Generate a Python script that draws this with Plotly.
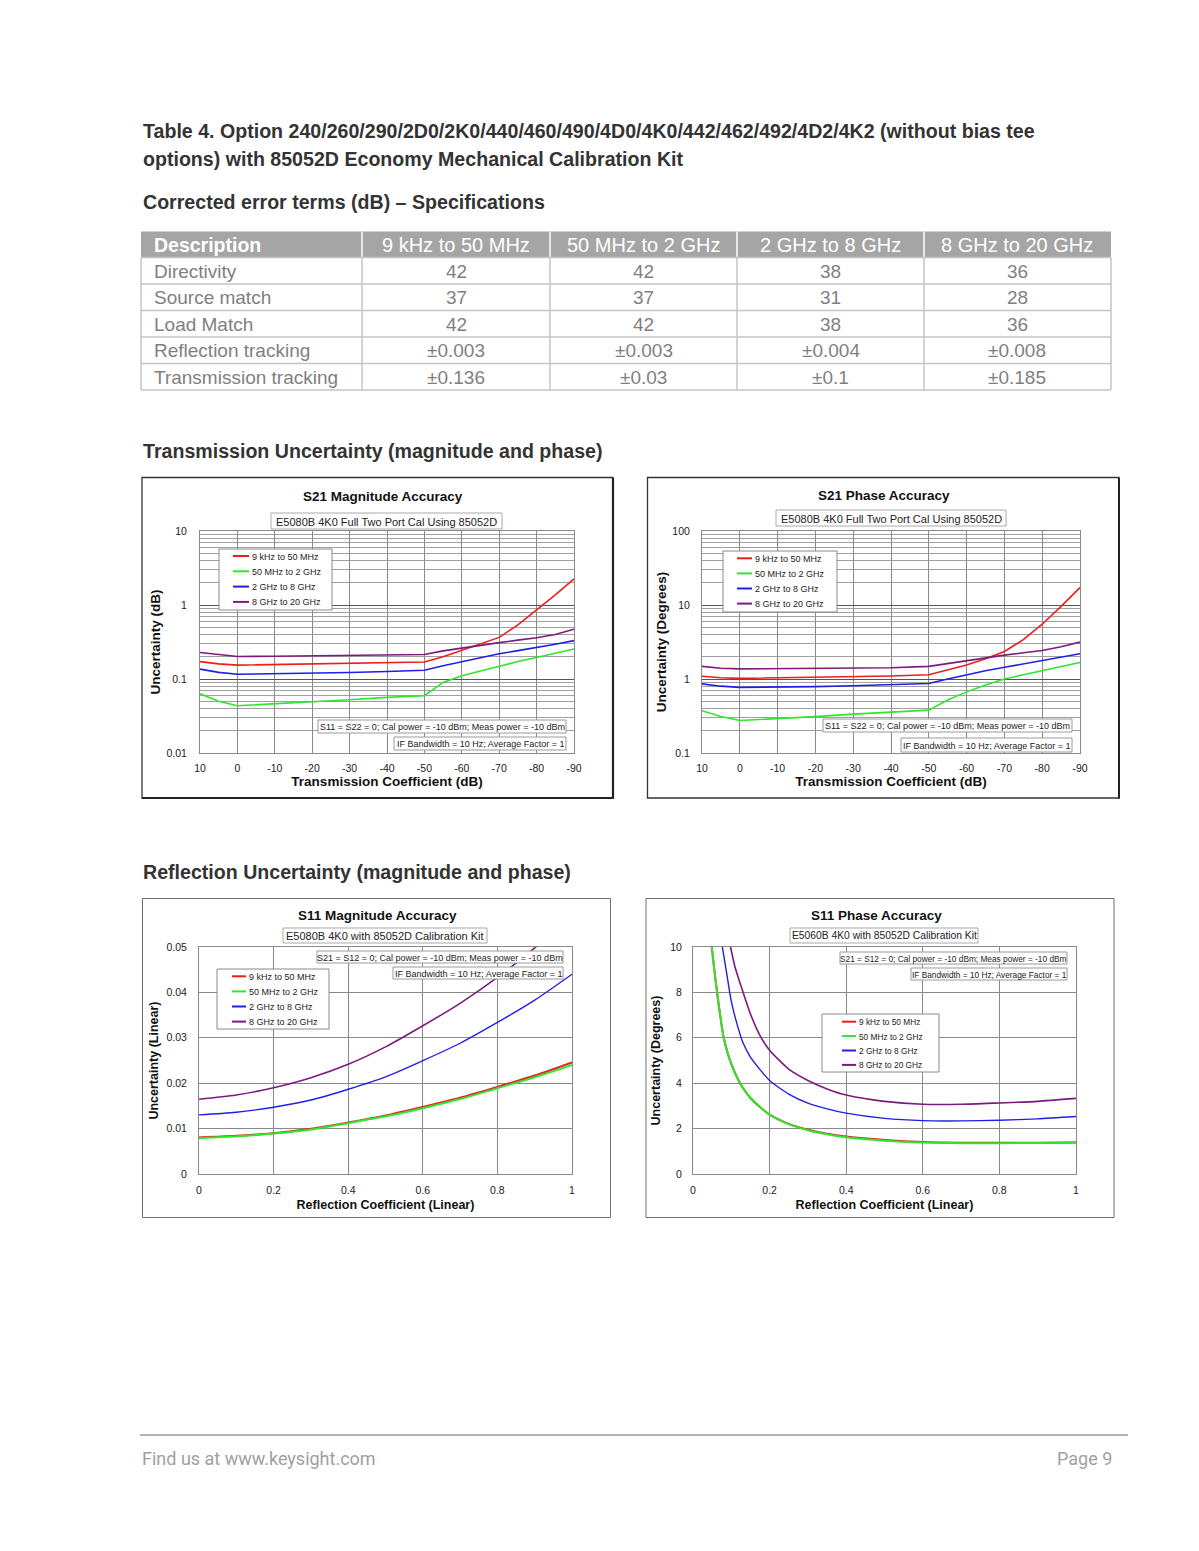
import plotly.graph_objects as go

PAGE_W, PAGE_H = 1199, 1551
BODY_MARGIN = 8  # default browser body margin around the figure div
W, H = PAGE_W - 2 * BODY_MARGIN, PAGE_H - 2 * BODY_MARGIN
FONT = "Liberation Sans, Arial, Helvetica, sans-serif"

# ---------------- page texts ----------------
page_heading_1 = "Table 4. Option 240/260/290/2D0/2K0/440/460/490/4D0/4K0/442/462/492/4D2/4K2 (without bias tee"
page_heading_2 = "options) with 85052D Economy Mechanical Calibration Kit"
table_caption = "Corrected error terms (dB) – Specifications"
section_tx = "Transmission Uncertainty (magnitude and phase)"
section_rx = "Reflection Uncertainty (magnitude and phase)"
footer_left = "Find us at www.keysight.com"
footer_right = "Page 9"

# ---------------- table data ----------------
table_header = ["Description", "9 kHz to 50 MHz", "50 MHz to 2 GHz", "2 GHz to 8 GHz", "8 GHz to 20 GHz"]
table_terms = ["Directivity", "Source match", "Load Match", "Reflection tracking", "Transmission tracking"]
band_9k_50m = ["42", "37", "42", "±0.003", "±0.136"]
band_50m_2g = ["42", "37", "42", "±0.003", "±0.03"]
band_2g_8g = ["38", "31", "38", "±0.004", "±0.1"]
band_8g_20g = ["36", "28", "36", "±0.008", "±0.185"]

# ---------------- series ----------------
series_names = ["9 kHz to 50 MHz", "50 MHz to 2 GHz", "2 GHz to 8 GHz", "8 GHz to 20 GHz"]
series_colors = ["#ee1c1c", "#2ee62e", "#1f1fe6", "#7d1a7d"]

# S21 magnitude / phase vs transmission coefficient (dB)
s21_x = [10, 5, 0, -10, -20, -30, -40, -50, -55, -60, -65, -70, -75, -80, -85, -90]
s21_mag_9k = [0.172, 0.160, 0.154, 0.157, 0.160, 0.163, 0.166, 0.170, 0.200, 0.243, 0.295, 0.365, 0.54, 0.86, 1.37, 2.25]
s21_mag_50m = [0.063, 0.050, 0.0435, 0.046, 0.049, 0.0525, 0.0565, 0.0595, 0.090, 0.111, 0.128, 0.149, 0.172, 0.195, 0.224, 0.255]
s21_mag_2g = [0.136, 0.123, 0.116, 0.1175, 0.119, 0.1225, 0.126, 0.131, 0.151, 0.172, 0.195, 0.219, 0.242, 0.266, 0.295, 0.33]
s21_mag_8g = [0.228, 0.212, 0.201, 0.203, 0.205, 0.207, 0.210, 0.214, 0.240, 0.263, 0.287, 0.31, 0.335, 0.36, 0.40, 0.47]

s21_ph_9k = [1.09, 1.04, 1.02, 1.035, 1.05, 1.075, 1.10, 1.14, 1.32, 1.55, 1.88, 2.35, 3.4, 5.5, 9.6, 17.2]
s21_ph_50m = [0.372, 0.312, 0.275, 0.29, 0.31, 0.335, 0.355, 0.38, 0.52, 0.67, 0.83, 1.0, 1.14, 1.30, 1.48, 1.67]
s21_ph_2g = [0.86, 0.80, 0.77, 0.775, 0.79, 0.81, 0.83, 0.87, 1.0, 1.14, 1.29, 1.44, 1.60, 1.76, 1.95, 2.19]
s21_ph_8g = [1.48, 1.40, 1.37, 1.375, 1.38, 1.40, 1.42, 1.48, 1.62, 1.76, 1.93, 2.10, 2.26, 2.43, 2.72, 3.15]

# S11 magnitude vs reflection coefficient (linear)
s11_x = [0.0, 0.1, 0.2, 0.3, 0.4, 0.5, 0.6, 0.7, 0.8, 0.9, 1.0]
s11_mag_9k = [0.00805, 0.0084, 0.0090, 0.00996, 0.01135, 0.0129, 0.01479, 0.0168, 0.01918, 0.0217, 0.0246]
s11_mag_50m = [0.0079, 0.0083, 0.0089, 0.0098, 0.0112, 0.0127, 0.0145, 0.0165, 0.0189, 0.0213, 0.0240]
s11_mag_2g = [0.01303, 0.0136, 0.01471, 0.0163, 0.01867, 0.0214, 0.02496, 0.0288, 0.03338, 0.0383, 0.0440]
s11_mag_8g = [0.01647, 0.0174, 0.0190, 0.0212, 0.02416, 0.0280, 0.03265, 0.0376, 0.0433, 0.0498, 0.0571]

# S11 phase vs reflection coefficient (linear)
s11ph_x_9k = [0.049, 0.057, 0.066, 0.079, 0.09, 0.10, 0.115, 0.13, 0.15, 0.175, 0.20, 0.25, 0.30, 0.35, 0.40, 0.50, 0.60, 0.70, 0.80, 0.90, 1.00]
s11ph_9k = [10.0, 8.8, 7.6, 6.1, 5.35, 4.85, 4.25, 3.8, 3.35, 2.95, 2.62, 2.21, 1.95, 1.77, 1.65, 1.50, 1.41, 1.38, 1.38, 1.38, 1.39]
s11ph_x_50m = [0.049, 0.057, 0.066, 0.079, 0.09, 0.10, 0.115, 0.13, 0.15, 0.175, 0.20, 0.25, 0.30, 0.35, 0.40, 0.50, 0.60, 0.70, 0.80, 0.90, 1.00]
s11ph_50m = [10.0, 8.8, 7.6, 6.1, 5.35, 4.85, 4.25, 3.8, 3.35, 2.95, 2.62, 2.2, 1.93, 1.75, 1.62, 1.47, 1.39, 1.36, 1.36, 1.37, 1.39]
s11ph_x_2g = [0.0766, 0.088, 0.10, 0.115, 0.13, 0.15, 0.175, 0.20, 0.25, 0.30, 0.35, 0.40, 0.50, 0.60, 0.70, 0.80, 0.90, 1.00]
s11ph_2g = [10.0, 8.84, 7.6, 6.6, 5.8, 5.15, 4.6, 4.12, 3.52, 3.12, 2.87, 2.68, 2.45, 2.35, 2.34, 2.37, 2.43, 2.53]
s11ph_x_8g = [0.098, 0.11, 0.125, 0.15, 0.175, 0.20, 0.25, 0.30, 0.35, 0.40, 0.50, 0.60, 0.70, 0.80, 0.90, 1.00]
s11ph_8g = [10.0, 9.1, 8.3, 7.05, 6.1, 5.45, 4.62, 4.12, 3.75, 3.48, 3.2, 3.07, 3.07, 3.13, 3.2, 3.33]

# ---------------- ticks ----------------
s21_xticks = [10, 0, -10, -20, -30, -40, -50, -60, -70, -80, -90]
s21_xticklabels = ["10", "0", "-10", "-20", "-30", "-40", "-50", "-60", "-70", "-80", "-90"]
mag_yticks = [0.01, 0.1, 1, 10]
mag_yticklabels = ["0.01", "0.1", "1", "10"]
ph_yticks = [0.1, 1, 10, 100]
ph_yticklabels = ["0.1", "1", "10", "100"]
s11_xticks = [0, 0.2, 0.4, 0.6, 0.8, 1.0]
s11_xticklabels = ["0", "0.2", "0.4", "0.6", "0.8", "1"]
s11_mag_yticks = [0, 0.01, 0.02, 0.03, 0.04, 0.05]
s11_mag_yticklabels = ["0", "0.01", "0.02", "0.03", "0.04", "0.05"]
s11_ph_yticks = [0, 2, 4, 6, 8, 10]
s11_ph_yticklabels = ["0", "2", "4", "6", "8", "10"]


# ---------------- helpers (page pixel -> paper) ----------------
def px(x):
    return (x - BODY_MARGIN) / W


def py(y):
    return 1 - (y - BODY_MARGIN) / H


def xdom(a, b):
    return [px(a), px(b)]


def ydom(top, bottom):
    return [py(bottom), py(top)]


def minor_log(lo, hi):
    vals = []
    for d in range(lo, hi):
        for k in range(2, 10):
            vals.append(k * 10 ** d)
    return vals


annotations = []
shapes = []


def text(t, x, y, size, bold=False, color="#222222", xanchor="center", yanchor="middle", family=FONT, **kw):
    annotations.append(dict(text=t, x=px(x), y=py(y), xref="paper", yref="paper", showarrow=False,
                            xanchor=xanchor, yanchor=yanchor,
                            font=dict(family=family, size=size, color=color,
                                      weight="bold" if bold else "normal"), **kw))


def line(x0, y0, x1, y1, color, width):
    shapes.append(dict(type="line", xref="paper", yref="paper", x0=px(x0), x1=px(x1), y0=py(y0), y1=py(y1),
                       line=dict(color=color, width=width)))


def rect(x0, y0, x1, y1, color, width, fill=None):
    d = dict(type="rect", xref="paper", yref="paper", x0=px(x0), x1=px(x1), y0=py(y1), y1=py(y0),
             line=dict(color=color, width=width))
    if fill:
        d["fillcolor"] = fill
    shapes.append(d)


def boxed(t, x0, y0, x1, y1, size, border="#9a9a9a"):
    rect(x0, y0, x1, y1, border, 1, "white")
    text(t, (x0 + x1) / 2, (y0 + y1) / 2 + 0.5, size, color="#222222")


def legend(box, lx0, lx1, y0, dy, size):
    rect(box[0], box[1], box[2], box[3], "#8a8a8a", 1, "white")
    for i, (name, col) in enumerate(zip(series_names, series_colors)):
        yy = y0 + i * dy
        line(lx0, yy, lx1, yy, col, 2)
        text(name, lx1 + 0.5, yy + 0.5, size, xanchor="left", color="#222222")


fig = go.Figure()

# ---------------- traces ----------------
s21_mag = [s21_mag_9k, s21_mag_50m, s21_mag_2g, s21_mag_8g]
s21_ph = [s21_ph_9k, s21_ph_50m, s21_ph_2g, s21_ph_8g]
s11_mag = [s11_mag_9k, s11_mag_50m, s11_mag_2g, s11_mag_8g]
s11_ph_x = [s11ph_x_9k, s11ph_x_50m, s11ph_x_2g, s11ph_x_8g]
s11_ph = [s11ph_9k, s11ph_50m, s11ph_2g, s11ph_8g]
s11_widths = [2.0, 2.0, 1.4, 1.6]

for i, (name, col) in enumerate(zip(series_names, series_colors)):
    fig.add_trace(go.Scatter(x=s21_x, y=s21_mag[i], xaxis="x", yaxis="y", mode="lines", name=name,
                             line=dict(color=col, width=1.6), showlegend=False))
for i, (name, col) in enumerate(zip(series_names, series_colors)):
    fig.add_trace(go.Scatter(x=s21_x, y=s21_ph[i], xaxis="x2", yaxis="y2", mode="lines", name=name,
                             line=dict(color=col, width=1.6), showlegend=False))
for i, (name, col) in enumerate(zip(series_names, series_colors)):
    fig.add_trace(go.Scatter(x=s11_x, y=s11_mag[i], xaxis="x3", yaxis="y3", mode="lines", name=name,
                             line=dict(color=col, width=s11_widths[i], shape="spline", smoothing=0.8),
                             showlegend=False))
for i, (name, col) in enumerate(zip(series_names, series_colors)):
    fig.add_trace(go.Scatter(x=s11_ph_x[i], y=s11_ph[i], xaxis="x4", yaxis="y4", mode="lines", name=name,
                             line=dict(color=col, width=s11_widths[i], shape="spline", smoothing=0.6),
                             showlegend=False))


# ---------------- axes ----------------
def axis(domain, anchor, tickvals, ticktext, title, tsize, standoff, lstand, grid="#8a8a8a", **kw):
    d = dict(domain=domain, anchor=anchor, showline=True, mirror=True, linecolor="#8a8a8a", linewidth=1,
             zeroline=False, ticks="", showgrid=True, gridcolor=grid, gridwidth=1, automargin=False,
             tickmode="array", tickvals=tickvals, ticktext=ticktext, ticklabelstandoff=lstand,
             tickfont=dict(family=FONT, size=10.5, color="#1a1a1a"), fixedrange=True,
             title=dict(text=title, standoff=standoff,
                        font=dict(family=FONT, size=tsize, color="#111111", weight="bold")))
    d.update(kw)
    return d


layout_axes = dict(
    xaxis=axis(xdom(200, 574), "y", s21_xticks, s21_xticklabels, "Transmission Coefficient (dB)", 13.5, 1, 5,
               range=[10, -90]),
    yaxis=axis(ydom(531, 753), "x", mag_yticks, mag_yticklabels, "Uncertainty (dB)", 13.5, 2, 10,
               grid="#555555", type="log", range=[-2, 1],
               minor=dict(tickmode="array", tickvals=minor_log(-2, 1), showgrid=True, gridcolor="#a0a0a0",
                          gridwidth=1, ticks="")),
    xaxis2=axis(xdom(702, 1080), "y2", s21_xticks, s21_xticklabels, "Transmission Coefficient (dB)", 13.5, 1, 5,
                range=[10, -90]),
    yaxis2=axis(ydom(531, 753), "x2", ph_yticks, ph_yticklabels, "Uncertainty (Degrees)", 13.5, 2, 9,
                grid="#555555", type="log", range=[-1, 2],
                minor=dict(tickmode="array", tickvals=minor_log(-1, 2), showgrid=True, gridcolor="#a0a0a0",
                           gridwidth=1, ticks="")),
    xaxis3=axis(xdom(199, 572), "y3", s11_xticks, s11_xticklabels, "Reflection Coefficient (Linear)", 12.5, 5, 6,
                range=[0, 1]),
    yaxis3=axis(ydom(947, 1174), "x3", s11_mag_yticks, s11_mag_yticklabels, "Uncertainty (Linear)", 12.5, 5, 9,
                range=[0, 0.05]),
    xaxis4=axis(xdom(693, 1076), "y4", s11_xticks, s11_xticklabels, "Reflection Coefficient (Linear)", 12.5, 5, 6,
                range=[0, 1]),
    yaxis4=axis(ydom(947, 1174), "x4", s11_ph_yticks, s11_ph_yticklabels, "Uncertainty (Degrees)", 12.5, 6, 8,
                range=[0, 10]),
)

# ---------------- page headings ----------------
HEAD = "#333333"
text(page_heading_1, 141, 131, 19.6, bold=True, color=HEAD, xanchor="left")
text(page_heading_2, 141, 159, 19.6, bold=True, color=HEAD, xanchor="left")
text(table_caption, 141, 202, 19.6, bold=True, color=HEAD, xanchor="left")
text(section_tx, 141, 451, 19.6, bold=True, color=HEAD, xanchor="left")
text(section_rx, 141, 872, 19.6, bold=True, color=HEAD, xanchor="left")

# ---------------- table ----------------
col_edges = [141, 362, 550, 737, 924, 1111]
row_edges = [257.5, 284, 310.5, 337, 363.5, 390]
hdr_top = 231.5
rect(col_edges[0], hdr_top, col_edges[-1], row_edges[0], "#a5a5a5", 0, "#a5a5a5")
for xe in col_edges[1:-1]:
    line(xe, hdr_top, xe, row_edges[0], "#ffffff", 1.5)
for ye in row_edges:
    line(col_edges[0], ye, col_edges[-1], ye, "#c4c4c4", 1.5)
for xe in col_edges:
    line(xe, row_edges[0], xe, row_edges[-1], "#c4c4c4", 1.5)

hdr_mid = (hdr_top + row_edges[0]) / 2 + 0.5
for j, h in enumerate(table_header):
    if j == 0:
        text(h, col_edges[0] + 11, hdr_mid, 19.5, bold=True, color="#ffffff", xanchor="left")
    else:
        text(h, (col_edges[j] + col_edges[j + 1]) / 2, hdr_mid, 20, color="#ffffff")

columns = [table_terms, band_9k_50m, band_50m_2g, band_2g_8g, band_8g_20g]
BODY = "#7f7f7f"
for r in range(len(table_terms)):
    ymid = (row_edges[r] + row_edges[r + 1]) / 2 + 0.5
    for j, col in enumerate(columns):
        if j == 0:
            text(col[r], col_edges[0] + 11, ymid, 19, color=BODY, xanchor="left")
        else:
            text(col[r], (col_edges[j] + col_edges[j + 1]) / 2, ymid, 19, color=BODY)

# ---------------- chart frames ----------------
rect(142, 477.5, 613, 798, "#333333", 1.3)
line(613, 478, 613, 798.5, "#222222", 2.2)
line(142, 798, 613.5, 798, "#222222", 2.2)
rect(647.5, 477.5, 1119, 798, "#333333", 1.3)
line(1119, 478, 1119, 798.5, "#222222", 2)
rect(142.5, 898.5, 610.5, 1217.5, "#6f6f6f", 1)
rect(646, 898.5, 1114, 1217.5, "#6f6f6f", 1)

# chart titles
text("S21 Magnitude Accuracy", 383, 496, 13.5, bold=True, color="#111111")
text("S21 Phase Accuracy", 884, 495, 13.5, bold=True, color="#111111")
text("S11 Magnitude Accuracy", 377, 916, 13.5, bold=True, color="#111111")
text("S11 Phase Accuracy", 876, 916, 13.5, bold=True, color="#111111")

# subtitle boxes
boxed("E5080B 4K0 Full Two Port Cal Using 85052D", 271, 513, 502, 529, 11, "#aaaaaa")
boxed("E5080B 4K0 Full Two Port Cal Using 85052D", 776, 510, 1006, 526, 11, "#aaaaaa")
boxed("E5080B 4K0 with 85052D Calibration Kit", 283, 928, 487, 943, 11, "#aaaaaa")
boxed("E5060B 4K0 with 85052D Calibration Kit", 790, 928, 978, 943, 10.3, "#aaaaaa")

# note boxes
note_s21 = "S11 = S22 = 0; Cal power = -10 dBm; Meas power = -10 dBm"
note_s11 = "S21 = S12 = 0; Cal power = -10 dBm; Meas power = -10 dBm"
note_if = "IF Bandwidth = 10 Hz; Average Factor = 1"
boxed(note_s21, 318, 720, 566, 733, 9)
boxed(note_if, 394, 737, 566, 750, 9)
boxed(note_s21, 823, 719, 1072, 732, 9)
boxed(note_if, 901, 738, 1072, 752, 9)
boxed(note_s11, 317, 951, 563, 963, 9)
boxed(note_if, 393, 967, 563, 979, 9)
boxed(note_s11, 840, 952, 1067, 964, 8.3)
boxed(note_if, 911, 968, 1067, 980, 8.3)

# legends
legend((219, 549, 332, 610), 233, 249, 556, 15.3, 9)
legend((723, 551, 837, 612), 737, 752, 558.3, 15.1, 9)
legend((217, 969, 329, 1029), 232, 246, 976.3, 15.1, 9)
legend((822, 1014, 939, 1072), 842, 856, 1021.7, 14.4, 8.3)

# ---------------- footer ----------------
line(140, 1435, 1128, 1435, "#b4b4b4", 2)
text(footer_left, 140, 1458, 18, color="#a0a0a0", xanchor="left", family="Roboto, " + FONT)
text(footer_right, 1114, 1458, 18, color="#a0a0a0", xanchor="right", family="Roboto, " + FONT)

fig.update_layout(
    width=W, height=H, autosize=False,
    margin=dict(l=0, r=0, t=0, b=0, pad=0, autoexpand=False),
    paper_bgcolor="white", plot_bgcolor="white",
    showlegend=False, hovermode=False,
    font=dict(family=FONT, color="#222222"),
    annotations=annotations, shapes=shapes,
    **layout_axes,
)

fig.write_html("out.html", config={"displayModeBar": False})
